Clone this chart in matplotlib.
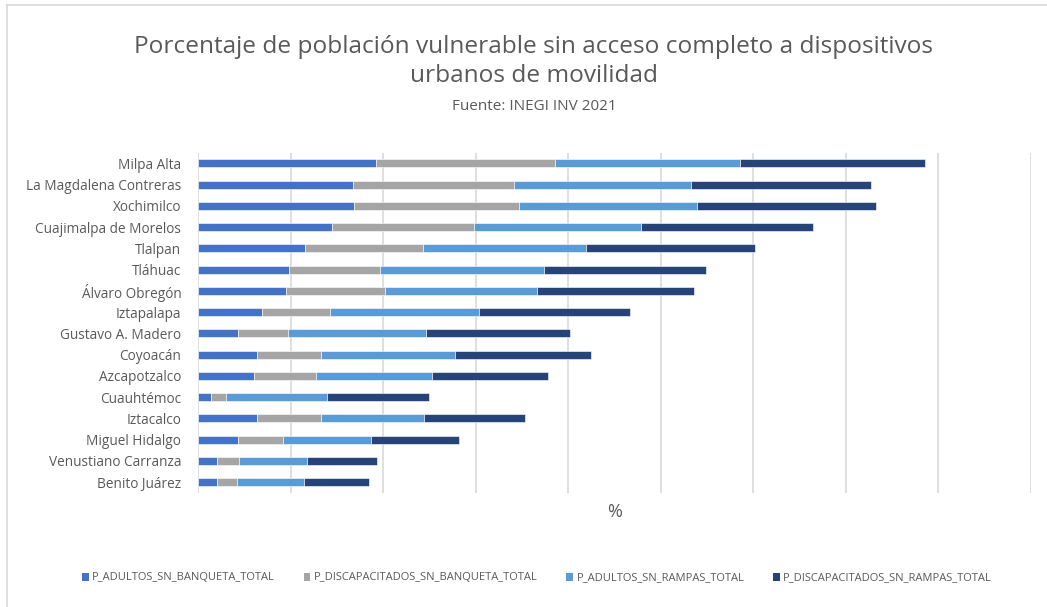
import matplotlib
matplotlib.use("Agg")
import matplotlib.pyplot as plt
from matplotlib.lines import Line2D
from matplotlib.patches import Patch
import numpy as np

plt.rcParams['font.family'] = ['Open Sans', 'DejaVu Sans']

categories = [
    "Milpa Alta", "La Magdalena Contreras", "Xochimilco", "Cuajimalpa de Morelos",
    "Tlalpan", "Tláhuac", "Álvaro Obregón", "Iztapalapa", "Gustavo A. Madero",
    "Coyoacán", "Azcapotzalco", "Cuauhtémoc", "Iztacalco", "Miguel Hidalgo",
    "Venustiano Carranza", "Benito Juárez",
]

adultos_sn_banqueta = [19.2, 16.8, 16.9, 14.5, 11.6, 9.8, 9.55, 6.9, 4.3,
                       6.4, 6.05, 1.45, 6.4, 4.3, 2.05, 2.05]
discap_sn_banqueta = [19.4, 17.4, 17.8, 15.35, 12.7, 9.85, 10.65, 7.4, 5.4,
                      6.85, 6.7, 1.55, 6.9, 4.9, 2.35, 2.15]
adultos_sn_rampas = [20.0, 19.1, 19.25, 18.0, 17.65, 17.75, 16.5, 16.1, 15.0,
                     14.5, 12.55, 10.95, 11.1, 9.55, 7.4, 7.3]
discap_sn_rampas = [19.95, 19.5, 19.4, 18.65, 18.3, 17.55, 16.95, 16.25, 15.55,
                    14.75, 12.5, 11.0, 10.95, 9.45, 7.55, 7.0]

series_names = ["P_ADULTOS_SN_BANQUETA_TOTAL", "P_DISCAPACITADOS_SN_BANQUETA_TOTAL",
                "P_ADULTOS_SN_RAMPAS_TOTAL", "P_DISCAPACITADOS_SN_RAMPAS_TOTAL"]
series = [adultos_sn_banqueta, discap_sn_banqueta, adultos_sn_rampas, discap_sn_rampas]
colors = ["#4472C4", "#A5A5A5", "#5B9BD5", "#264478"]

W, H = 1047, 607
fig = plt.figure(figsize=(W / 100, H / 100), dpi=100)
ax = fig.add_axes([198 / W, 1 - 492.7 / H, (1030.5 - 198) / W, (492.7 - 152.7) / H])

y = np.arange(len(categories))
left = np.zeros(len(categories))
for vals, name, col in zip(series, series_names, colors):
    vals = np.array(vals)
    ax.barh(y, vals, left=left, height=0.38, color=col, label=name,
            edgecolor="white", linewidth=0.4, zorder=3)
    left += vals

ax.set_xlim(0, 90)
ax.set_ylim(len(categories) - 0.5, -0.5)
ax.set_xticks(np.arange(0, 91, 10))
ax.set_xticklabels([])
ax.tick_params(axis="x", length=0)
ax.tick_params(axis="y", length=0, pad=12, labelsize=9.8, labelcolor="#595959")
ax.set_yticks(y)
ax.set_yticklabels(categories)
ax.grid(axis="x", color="#D9D9D9", linewidth=1.2, zorder=0)
for s in ax.spines.values():
    s.set_visible(False)

ax.set_xlabel("%", fontsize=13, color="#595959", labelpad=4)

cx = 534 / W
fig.text(cx, 1 - 47 / H, "Porcentaje de población vulnerable sin acceso completo a dispositivos",
         ha="center", va="center", fontsize=17.6, color="#595959")
fig.text(cx, 1 - 76 / H, "urbanos de movilidad",
         ha="center", va="center", fontsize=17.6, color="#595959")
fig.text(cx, 1 - 106 / H, "Fuente: INEGI INV 2021",
         ha="center", va="center", fontsize=11, color="#595959")

handles = [Patch(facecolor=c, edgecolor="none") for c in colors]
fig.legend(handles, series_names, loc="center", bbox_to_anchor=(537 / W, 1 - 578 / H),
           ncol=4, frameon=False, fontsize=8, labelcolor="#595959",
           handlelength=0.6, handleheight=0.7, handletextpad=0.3, columnspacing=2.6)

# chart area border
fig.add_artist(Line2D([7 / W, 1.0], [1 - 5 / H, 1 - 5 / H], color="#D9D9D9", linewidth=1.2))
fig.add_artist(Line2D([7 / W, 7 / W], [0.0, 1 - 5 / H], color="#D9D9D9", linewidth=1.2))

fig.savefig("out.png", dpi=100)
